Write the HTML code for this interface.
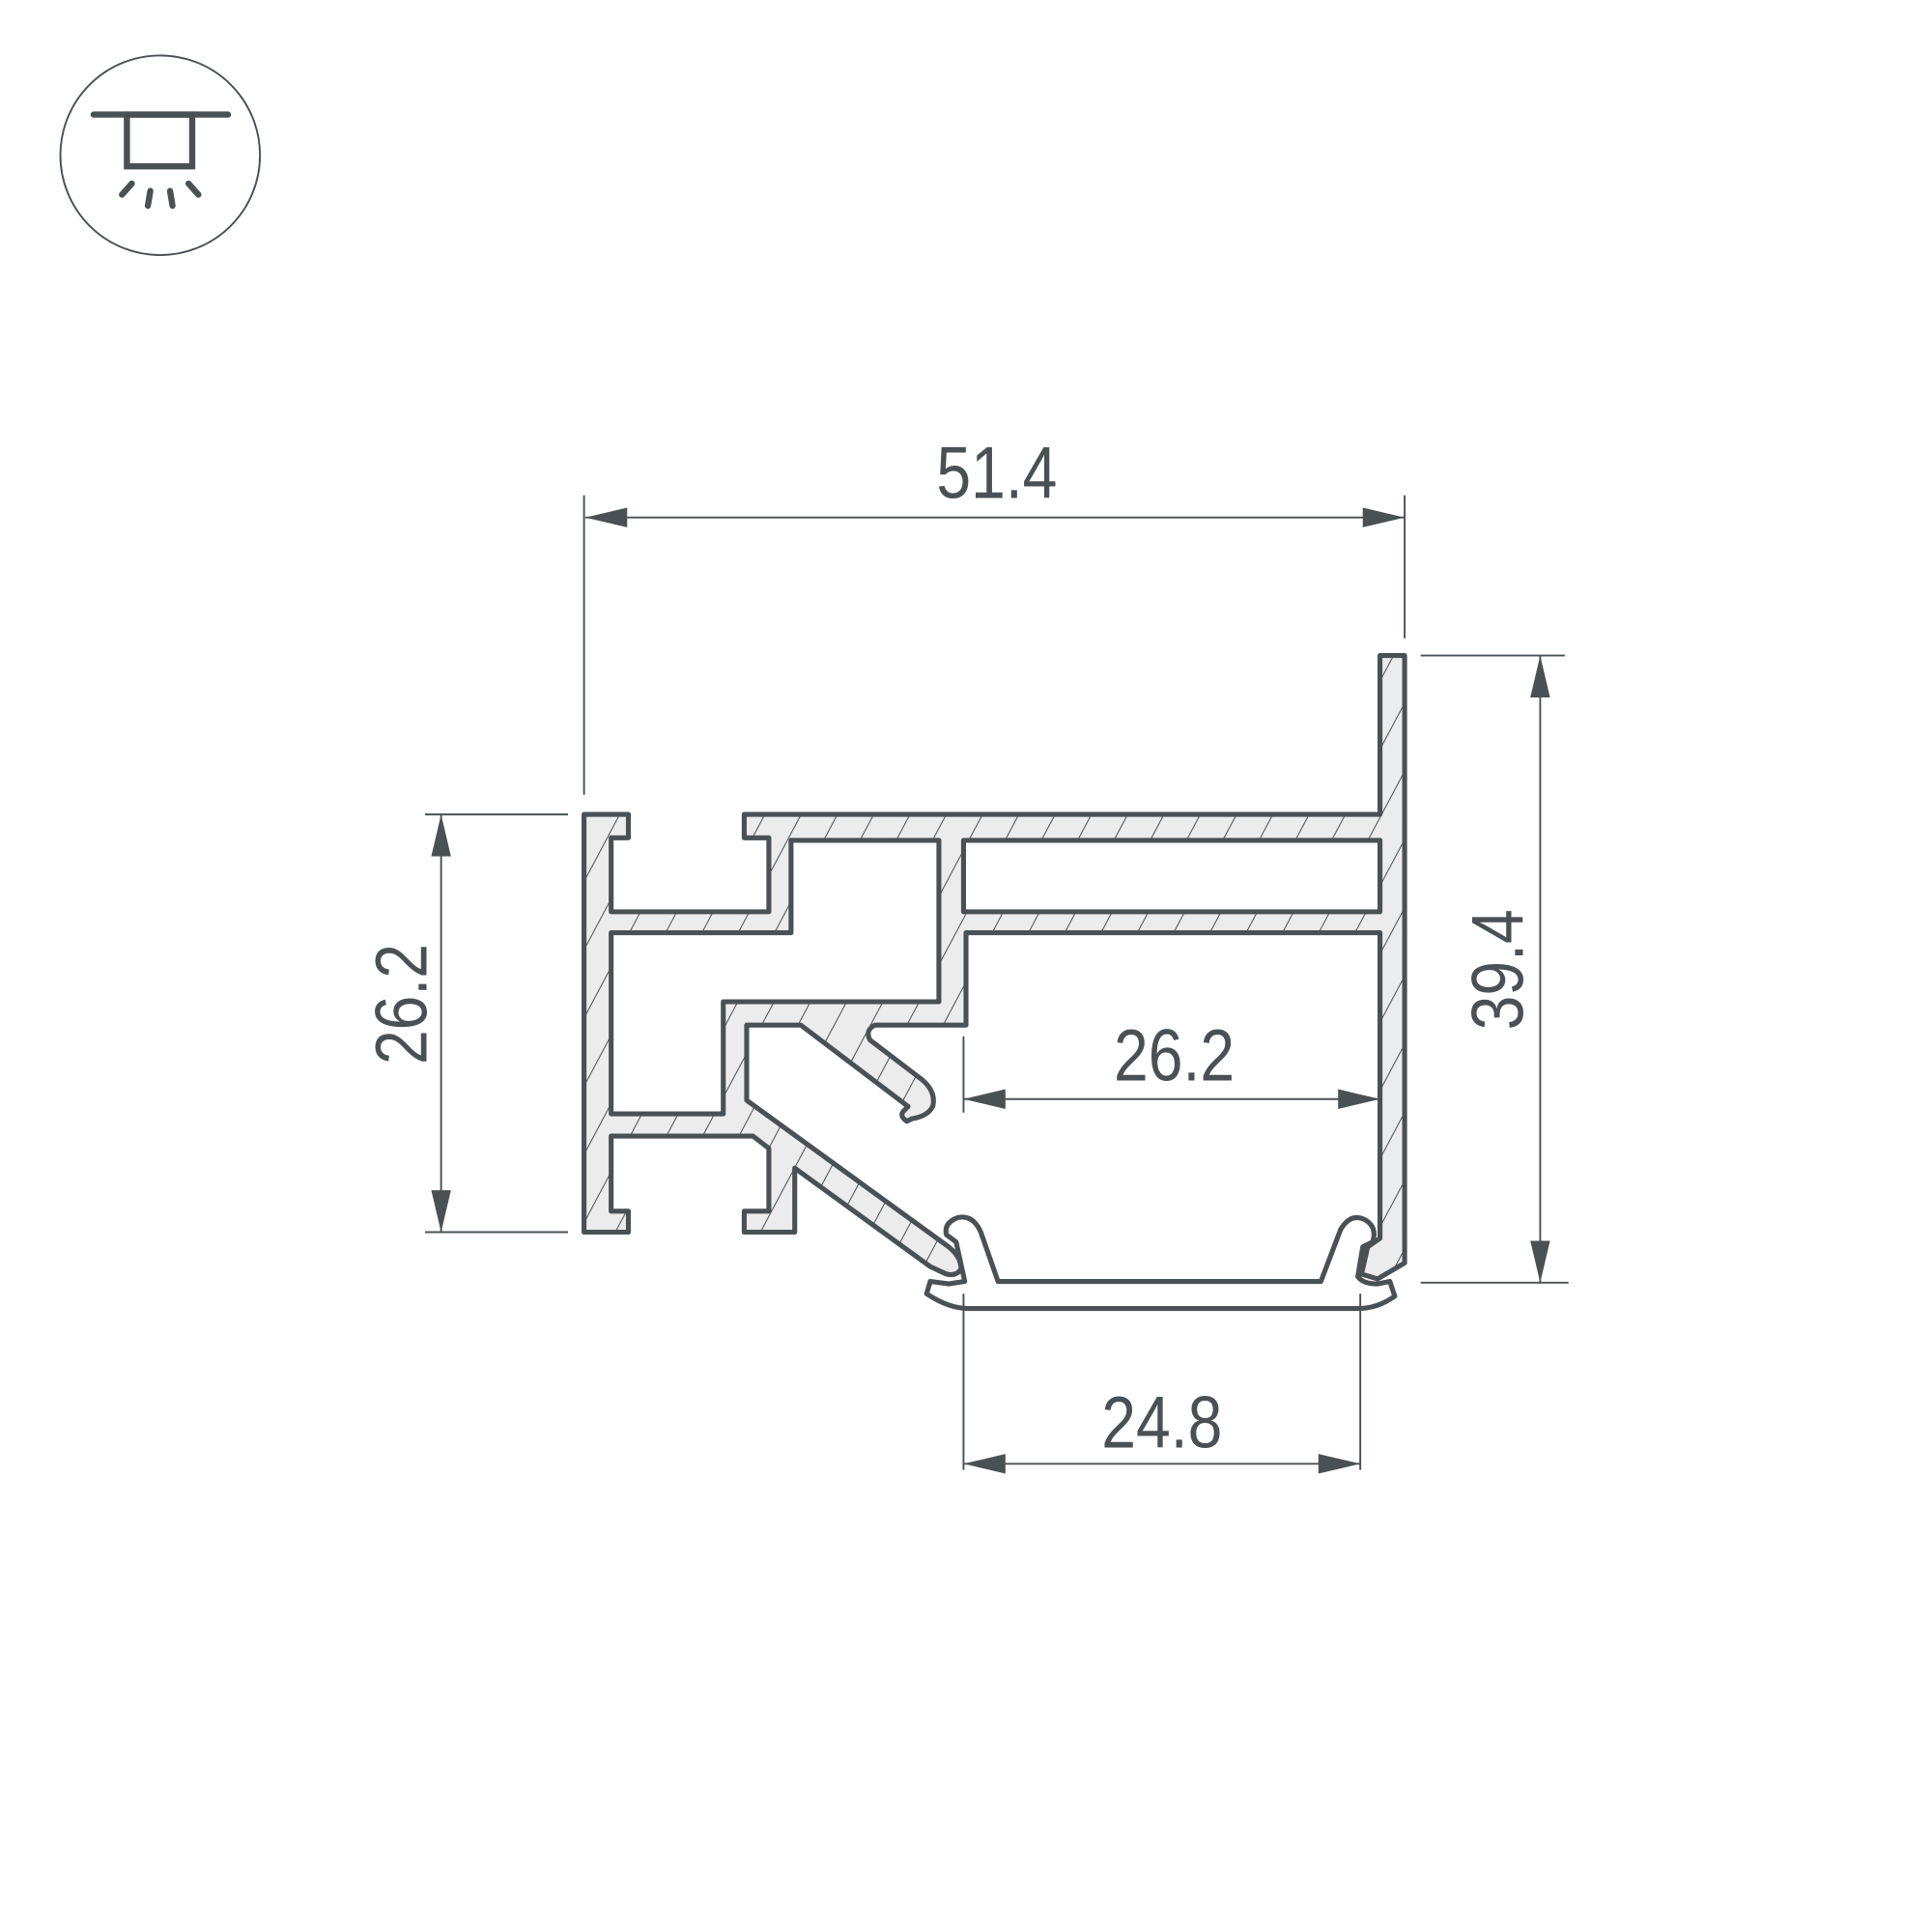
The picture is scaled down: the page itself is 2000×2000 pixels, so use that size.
<!DOCTYPE html>
<html><head><meta charset="utf-8"><style>
html,body{margin:0;padding:0;background:#fff;}
svg{display:block;}
text{font-family:"Liberation Sans",sans-serif;fill:#4a5155;}
</style></head><body>
<svg width="2000" height="2000" viewBox="0 0 1568 1568" xmlns="http://www.w3.org/2000/svg">
<defs>
<pattern id="h" width="26" height="26" patternUnits="userSpaceOnUse" patternTransform="rotate(28)">
<rect width="26" height="26" fill="#ececec"/>
<line x1="0" y1="0" x2="0" y2="26" stroke="#4a5155" stroke-width="1.6"/>
</pattern>
</defs>
<!-- icon -->
<circle cx="130" cy="126" r="81" fill="none" stroke="#4a5155" stroke-width="1.5"/>
<g stroke="#4a5155" stroke-width="5" stroke-linecap="round" fill="none">
<line x1="76" y1="93" x2="185" y2="93"/>
<rect x="103" y="93" width="53" height="42"/>
<line x1="107" y1="149" x2="99" y2="158"/>
<line x1="122" y1="155" x2="120" y2="167"/>
<line x1="138" y1="155" x2="140" y2="167"/>
<line x1="153" y1="149" x2="161" y2="158"/>
</g>
<!-- profile -->
<g stroke="#4a5155" stroke-width="4" stroke-linejoin="round">
<path fill="url(#h)" d="M474,661 L510,661 L510,680 L496,680 L496,740 L624,740 L624,680 L604,680 L604,661 L1120,661 L1120,532 L1140,532 L1140,1025 L1118,1038 L1105,1034 L1110,1012 L1120,1005 L1120,757 L784,757 L784,832 L710,832 Q702,836 706,844 L748,876 Q760,886 757,898 Q753,906 740,908 L736,910 Q730,906 733,902 L737,898 L650,832 L606,832 L606,893 L770,1012 Q780,1020 780,1030 Q776,1036 768,1034 L755,1028 L645,948 L645,1000 L604,1000 L604,983 L624,983 L624,932 L611,922 L496,922 L496,983 L510,983 L510,1000 L474,1000 Z"/>
<path fill="#fff" d="M496,757 L642,757 L642,682 L762,682 L762,813 L587,813 L587,904 L496,904 Z"/>
<rect fill="#fff" x="782" y="682" width="338" height="58"/>
<path fill="#fff" d="M755,1040 L752,1050 Q770,1062 786,1062 L1102,1062 Q1118,1062 1132,1052 L1128,1040 L1118,1042 Q1106,1042 1102,1036 L1106,1012 L1114,1008 Q1118,996 1108,990 Q1096,984 1088,998 L1072,1040 L810,1040 L796,1000 Q790,986 778,988 Q766,992 768,1002 L776,1008 L783,1040 L770,1042 Z"/>
</g>
<!-- dimensions -->
<g stroke="#4a5155" stroke-width="1.5" fill="none">
<line x1="474" y1="402" x2="474" y2="645"/>
<line x1="1140" y1="402" x2="1140" y2="518"/>
<line x1="475" y1="420" x2="1140" y2="420"/>
<line x1="1153" y1="532" x2="1270" y2="532"/>
<line x1="1153" y1="1041" x2="1273" y2="1041"/>
<line x1="1250" y1="532" x2="1250" y2="1041"/>
<line x1="345" y1="661" x2="461" y2="661"/>
<line x1="345" y1="1000" x2="461" y2="1000"/>
<line x1="358" y1="661" x2="358" y2="1000"/>
<line x1="782" y1="841" x2="782" y2="903"/>
<line x1="782" y1="892" x2="1120" y2="892"/>
<line x1="782" y1="1050" x2="782" y2="1193"/>
<line x1="1104" y1="1050" x2="1104" y2="1193"/>
<line x1="782" y1="1188" x2="1104" y2="1188"/>
</g>
<g fill="#4a5155">
<polygon points="475,420 509,412 509,428"/>
<polygon points="1140,420 1106,412 1106,428"/>
<polygon points="1250,532 1242,566 1258,566"/>
<polygon points="1250,1041 1242,1007 1258,1007"/>
<polygon points="358,661 350,695 366,695"/>
<polygon points="358,1000 350,966 366,966"/>
<polygon points="782,892 816,884 816,900"/>
<polygon points="1120,892 1086,884 1086,900"/>
<polygon points="782,1188 816,1180 816,1196"/>
<polygon points="1104,1188 1070,1180 1070,1196"/>
</g>
<text x="809" y="404" font-size="60" text-anchor="middle" textLength="98" lengthAdjust="spacingAndGlyphs">51.4</text>
<text x="953" y="877" font-size="60" text-anchor="middle" textLength="98" lengthAdjust="spacingAndGlyphs">26.2</text>
<text x="943" y="1175" font-size="60" text-anchor="middle" textLength="98" lengthAdjust="spacingAndGlyphs">24.8</text>
<text transform="translate(1236,787) rotate(-90)" font-size="60" text-anchor="middle" textLength="98" lengthAdjust="spacingAndGlyphs">39.4</text>
<text transform="translate(346,815) rotate(-90)" font-size="60" text-anchor="middle" textLength="98" lengthAdjust="spacingAndGlyphs">26.2</text>
</svg>
</body></html>
